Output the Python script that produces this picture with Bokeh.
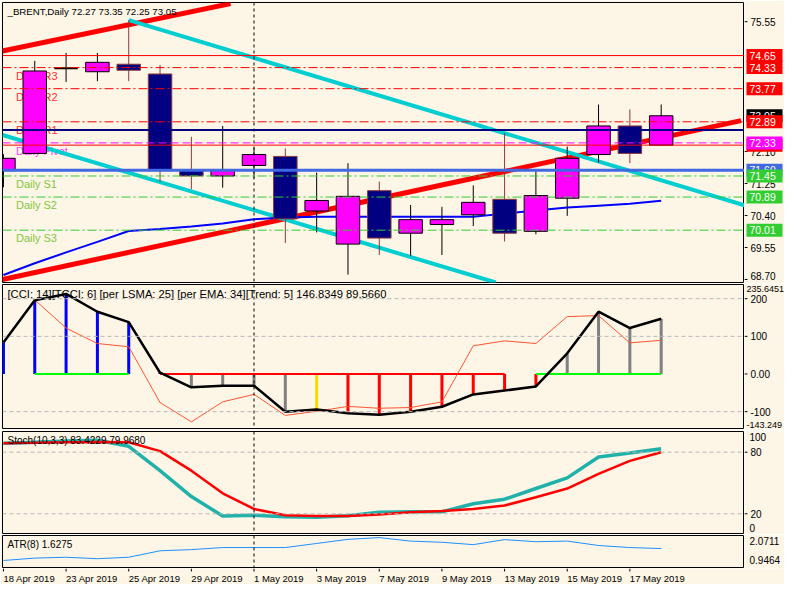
import numpy as np
from bokeh.plotting import figure
from bokeh.layouts import column, row
from bokeh.models import Range1d, Span
from bokeh.embed import file_html
from bokeh.resources import INLINE
from bokeh.core.properties import value

BG = "#FDF5E6"
FONT = "Liberation Sans"

# ---------------- data ----------------
bar_dates = ["18 Apr 2019", "22 Apr 2019", "23 Apr 2019", "24 Apr 2019", "25 Apr 2019", "26 Apr 2019",
             "29 Apr 2019", "30 Apr 2019", "1 May 2019", "2 May 2019", "3 May 2019", "6 May 2019",
             "7 May 2019", "8 May 2019", "9 May 2019", "10 May 2019", "13 May 2019", "14 May 2019",
             "15 May 2019", "16 May 2019", "17 May 2019", "20 May 2019"]
opens = [71.59, 72.05, 74.31, 74.22, 74.42, 74.16, 71.61, 71.45, 71.73, 71.97, 70.52,
         69.64, 71.06, 69.93, 70.16, 70.42, 70.83, 69.98, 70.86, 72.02, 72.78, 72.27]
highs = [72.03, 74.51, 74.72, 74.72, 75.59, 74.40, 72.49, 72.78, 72.20, 72.18, 71.54,
         71.79, 71.30, 70.68, 70.63, 71.20, 72.59, 71.63, 72.23, 73.35, 73.22, 73.35]
lows = [71.15, 72.03, 73.95, 73.97, 73.97, 71.29, 71.10, 71.14, 71.40, 69.67, 69.95,
        68.83, 69.35, 69.32, 69.35, 70.12, 69.71, 69.90, 70.39, 71.81, 71.79, 72.25]
closes = [71.92, 74.24, 74.31, 74.47, 74.26, 71.59, 71.45, 71.61, 72.02, 70.31, 70.80,
          70.91, 69.80, 70.29, 70.29, 70.75, 69.93, 70.93, 71.92, 72.78, 72.05, 73.05]
ma_line = [68.82, 69.13, 69.42, 69.70, 69.99, 70.04, 70.11, 70.19, 70.30, 70.35, 70.37,
           70.37, 70.37, 70.37, 70.37, 70.37, 70.45, 70.53, 70.61, 70.66, 70.71, 70.79]

# trend lines (bar index, price)
red_upper_x, red_upper_y = [-0.03, 7.25], [74.77, 76.03]
red_lower_x, red_lower_y = [-0.03, 23.55], [68.70, 72.92]
cyan_upper_x, cyan_upper_y = [4.0, 23.66], [75.59, 70.67]
cyan_lower_x, cyan_lower_y = [-0.03, 15.72], [72.54, 68.62]

pivot_names = ["Daily R3", "Daily R2", "Daily R1", "Daily Pivot", "Daily S1", "Daily S2", "Daily S3"]
pivot_levels = [74.33, 73.77, 72.89, 72.33, 71.45, 70.89, 70.01]
pivot_colors = ["#FF0000", "#FF0000", "#FF0000", "#FF00FF", "#32CD32", "#32CD32", "#32CD32"]
pivot_text_colors = ["#FF3030", "#FF3030", "#FF3030", "#FF40FF", "#80C840", "#80C840", "#80C840"]
weekly_high = 74.65
navy_level = 72.67
blue_level = 71.60
open_level = 72.27
price_ticks = [68.70, 69.55, 70.40, 71.25, 72.10, 75.55]
# right-hand price boxes, drawn in this order
box_levels = [74.65, 74.33, 73.77, 73.05, 72.89, 72.27, 72.33, 71.60, 71.45, 70.89, 70.01]
box_colors = ["#FF0000", "#FF0000", "#FF0000", "#000000", "#FF0000", "#FF0000", "#FF00FF",
              "#4169E1", "#32CD32", "#32CD32", "#32CD32"]

cci = [83.5, 195.6, 212.7, 165.4, 137.7, 3.4, -35.3, -31.0, -31.0, -100.0, -94.5,
       -104.0, -108.5, -100.0, -87.0, -54.3, -44.0, -33.0, 55.0, 165.4, 122.0, 146.8349]
tcci = [83.5, 197.0, 122.0, 80.9, 72.4, -75.7, -127.0, -74.0, -54.0, -110.0, -99.0,
        -86.0, -91.0, -89.0, -74.0, 75.0, 88.0, 80.9, 152.5, 155.0, 82.7, 89.5660]
hist_colors = ["#0000FF"] * 6 + ["#808080"] * 4 + ["#FFD700"] + ["#FF0000"] * 7 + ["#808080"] * 4
trend_start = [1, 5, 17]
trend_end = [4, 16, 21]
trend_colors = ["#00FF00", "#FF0000", "#00FF00"]
cci_levels = [200, 100, -100]
cci_ticks = [200, 100, 0, -100]
cci_tick_labels = ["200", "100", "0.00", "-100"]
cci_top, cci_bottom = 235.6451, -143.249

stoch_k = [88.8, 89.7, 91.0, 91.6, 85.7, 62.0, 36.8, 17.8, 18.5, 17.2, 16.6,
           18.1, 21.6, 21.9, 21.9, 29.8, 34.2, 44.6, 55.0, 75.3, 79.3, 83.4229]
stoch_d = [88.8, 89.1, 89.7, 90.0, 89.7, 81.0, 62.0, 39.9, 24.7, 18.5, 17.8,
           17.8, 19.4, 21.6, 22.6, 24.7, 28.0, 36.1, 44.6, 58.8, 71.5, 79.9680]
stoch_levels = [80, 20]

atr = [1.22, 1.30, 1.33, 1.28, 1.33, 1.55, 1.59, 1.66, 1.66, 1.66, 1.80,
       1.94, 2.00, 1.88, 1.84, 1.76, 1.93, 1.86, 1.88, 1.73, 1.66, 1.6275]
atr_top, atr_bottom = 2.0711, 0.9464

# ---------------- layout helpers ----------------
n = len(opens)
idx = np.arange(n)
X0, X1 = -0.03, 23.66
FW = 742          # chart frame width (px)
SW = 40           # price-scale strip width (px)
xr = Range1d(X0, X1)
sep_index = bar_dates.index("1 May 2019")


def base(fh, yr, top=1, bottom=1):
    p = figure(frame_width=FW, frame_height=fh, x_range=xr, y_range=yr,
               output_backend="svg", toolbar_location=None,
               x_axis_location=None, y_axis_location=None,
               min_border_left=2, min_border_right=0, min_border_top=top, min_border_bottom=bottom,
               background_fill_color=BG, border_fill_color=BG,
               outline_line_color="black", outline_line_width=1)
    p.xgrid.visible = False
    p.ygrid.visible = False
    p.add_layout(Span(location=sep_index, dimension="height", line_color="black",
                      line_dash="3 3", line_width=1))
    return p


def strip(fh, yr, top=1, bottom=1):
    s = figure(frame_width=SW, frame_height=fh, x_range=Range1d(0, SW), y_range=yr,
               output_backend="svg", toolbar_location=None,
               x_axis_location=None, y_axis_location=None,
               min_border_left=0, min_border_right=0, min_border_top=top, min_border_bottom=bottom,
               background_fill_color=BG, border_fill_color=BG, outline_line_color=None)
    s.xgrid.visible = False
    s.ygrid.visible = False
    return s


def scale_ticks(s, ticks, labels, yoffs=None):
    k = len(ticks)
    s.segment(x0=[0] * k, y0=ticks, x1=[3] * k, y1=ticks, line_color="black", line_width=1)
    s.text(x=[6] * k, y=ticks, text=labels, text_font=value(FONT), text_font_size="10px",
           text_color="black", text_baseline="middle", text_align="left",
           y_offset=yoffs if yoffs is not None else 0)


def scale_text(s, y, text, baseline, yoff=0, size="10px", x=5):
    s.text(x=[x], y=[y], text=[text], text_font=value(FONT), text_font_size=size,
           text_color="black", text_baseline=baseline, text_align="left", y_offset=yoff)


def header(p, y, text, size="10px"):
    p.text(x=[X0], y=[y], text=[text], x_offset=5, y_offset=3, text_font=value(FONT),
           text_font_size=size, text_color="black", text_baseline="top", text_align="left")


# ---------------- main price panel ----------------
yr1 = Range1d(68.62, 76.06)
p1 = base(280, yr1, top=2, bottom=1)
s1 = strip(280, yr1, top=2, bottom=1)

p1.add_layout(Span(location=weekly_high, dimension="width", line_color="#FF0000", line_width=1))
p1.add_layout(Span(location=open_level, dimension="width", line_color="#FF0000", line_width=1))
p1.add_layout(Span(location=navy_level, dimension="width", line_color="#000080", line_width=2))
p1.add_layout(Span(location=blue_level, dimension="width", line_color="#4169E1", line_width=3))
for lev, col in zip(pivot_levels, pivot_colors):
    dash = "8 4" if col == "#FF00FF" else "9 3 2 3"
    p1.add_layout(Span(location=lev, dimension="width", line_color=col, line_width=1, line_dash=dash))

p1.text(x=[0.4] * len(pivot_levels), y=pivot_levels, text=pivot_names,
        text_color=pivot_text_colors, text_font=value(FONT), text_font_size="11px",
        text_baseline="top", text_align="left", y_offset=2)

p1.line(red_upper_x, red_upper_y, line_color="#FF0000", line_width=5)
p1.line(red_lower_x, red_lower_y, line_color="#FF0000", line_width=5)
p1.line(cyan_upper_x, cyan_upper_y, line_color="#00CED1", line_width=4)
p1.line(cyan_lower_x, cyan_lower_y, line_color="#00CED1", line_width=4)
p1.line(idx, ma_line, line_color="#0000FF", line_width=2)

o = np.array(opens)
c = np.array(closes)
body_top = np.maximum(o, c)
body_bot = np.minimum(o, c)
fills = ["#FF00FF" if cc > oo else ("#000080" if cc < oo else "#000000") for oo, cc in zip(o, c)]
edges = ["#000000" if cc >= oo else "#8B3A3A" for oo, cc in zip(o, c)]
widths = [2 if cc == oo else 1 for oo, cc in zip(o, c)]
p1.segment(x0=idx, y0=highs, x1=idx, y1=lows, line_color=edges, line_width=1)
p1.vbar(x=idx, top=body_top, bottom=body_bot, width=0.75, fill_color=fills,
        line_color=edges, line_width=widths)

header(p1, yr1.end, "_BRENT,Daily  %.2f %.2f %.2f %.2f" % (opens[-1], highs[-1], lows[-1], closes[-1]),
       size="9.7px")

scale_ticks(s1, price_ticks, ["%.2f" % t for t in price_ticks],
            yoffs=[-3 if t == min(price_ticks) else 0 for t in price_ticks])
for lev, col in zip(box_levels, box_colors):
    s1.rect(x=[20], y=[lev], width=36, height=13, height_units="screen",
            fill_color=col, line_color=None)
    s1.text(x=[5], y=[lev], text=["%.2f" % lev], text_font=value(FONT), text_font_size="10.5px",
            text_color="white", text_baseline="middle", text_align="left")

# ---------------- CCI panel ----------------
yr2 = Range1d(-144.7, 237.7)
p2 = base(144, yr2, top=1, bottom=2)
s2 = strip(144, yr2, top=1, bottom=2)
for lev in cci_levels:
    p2.add_layout(Span(location=lev, dimension="width", line_color="#B8B8B8", line_dash="4 3", line_width=1))
p2.segment(x0=idx, y0=np.zeros(n), x1=idx, y1=cci, line_color=hist_colors, line_width=3)
p2.segment(x0=trend_start, y0=[0] * len(trend_start), x1=trend_end, y1=[0] * len(trend_end),
           line_color=trend_colors, line_width=2)
p2.line(idx, tcci, line_color="#FF5533", line_width=1)
p2.line(idx, cci, line_color="#000000", line_width=2.5)
header(p2, yr2.end, "[CCI: 14][TCCI: 6] [per LSMA: 25] [per EMA: 34][Trend: 5]  %.4f %.4f" % (cci[-1], tcci[-1]),
       size="11.2px")
scale_ticks(s2, cci_ticks, cci_tick_labels)
scale_text(s2, yr2.end, "%.4f" % cci_top, "top", 1, size="9px", x=2)
scale_text(s2, yr2.start, "%.3f" % cci_bottom, "bottom", -1, size="9px", x=2)

# ---------------- Stochastic panel ----------------
yr3 = Range1d(0.79, 100.16)
p3 = base(102, yr3, top=1, bottom=1)
s3 = strip(102, yr3, top=1, bottom=1)
for lev in stoch_levels:
    p3.add_layout(Span(location=lev, dimension="width", line_color="#B8B8B8", line_dash="4 3", line_width=1))
p3.line(idx, stoch_k, line_color="#20B2AA", line_width=3.5)
p3.line(idx, stoch_d, line_color="#FF0000", line_width=2.5)
header(p3, yr3.end, "Stoch(10,3,3) %.4f %.4f" % (stoch_k[-1], stoch_d[-1]))
scale_ticks(s3, stoch_levels, [str(v) for v in stoch_levels])
scale_text(s3, yr3.end, "100", "top", 1)
scale_text(s3, yr3.start, "0", "bottom", -2)

# ---------------- ATR panel ----------------
yr4 = Range1d(atr_bottom, atr_top)
p4 = base(33, yr4, top=1, bottom=0)
s4 = strip(33, yr4, top=1, bottom=0)
p4.line(idx, atr, line_color="#1E90FF", line_width=1)
header(p4, yr4.end, "ATR(8) %.4f" % atr[-1])
scale_text(s4, atr_top, "%.4f" % atr_top, "top", 1)
scale_text(s4, atr_bottom, "%.4f" % atr_bottom, "bottom", -5)

# ---------------- date scale ----------------
date_ticks = list(range(0, n - 1, 2))
xr_d = Range1d(X0, X0 + (X1 - X0) * (FW + SW) / FW)
d = figure(frame_width=FW + SW, frame_height=16, x_range=xr_d, y_range=Range1d(0, 16),
           output_backend="svg", toolbar_location=None, x_axis_location=None, y_axis_location=None,
           min_border_left=2, min_border_right=0, min_border_top=0, min_border_bottom=0,
           background_fill_color=BG, border_fill_color=BG, outline_line_color=None)
d.xgrid.visible = False
d.ygrid.visible = False
d.segment(x0=date_ticks, y0=[16] * len(date_ticks), x1=date_ticks, y1=[13] * len(date_ticks),
          line_color="black", line_width=1)
d.text(x=date_ticks, y=[13] * len(date_ticks), text=[bar_dates[i] for i in date_ticks],
       text_font=value(FONT), text_font_size="9.5px", text_color="black",
       text_baseline="top", text_align="left", y_offset=1)

layout = column(row(p1, s1, spacing=0), row(p2, s2, spacing=0), row(p3, s3, spacing=0),
                row(p4, s4, spacing=0), d, spacing=0)
open("out.html", "w").write(file_html(layout, INLINE))
